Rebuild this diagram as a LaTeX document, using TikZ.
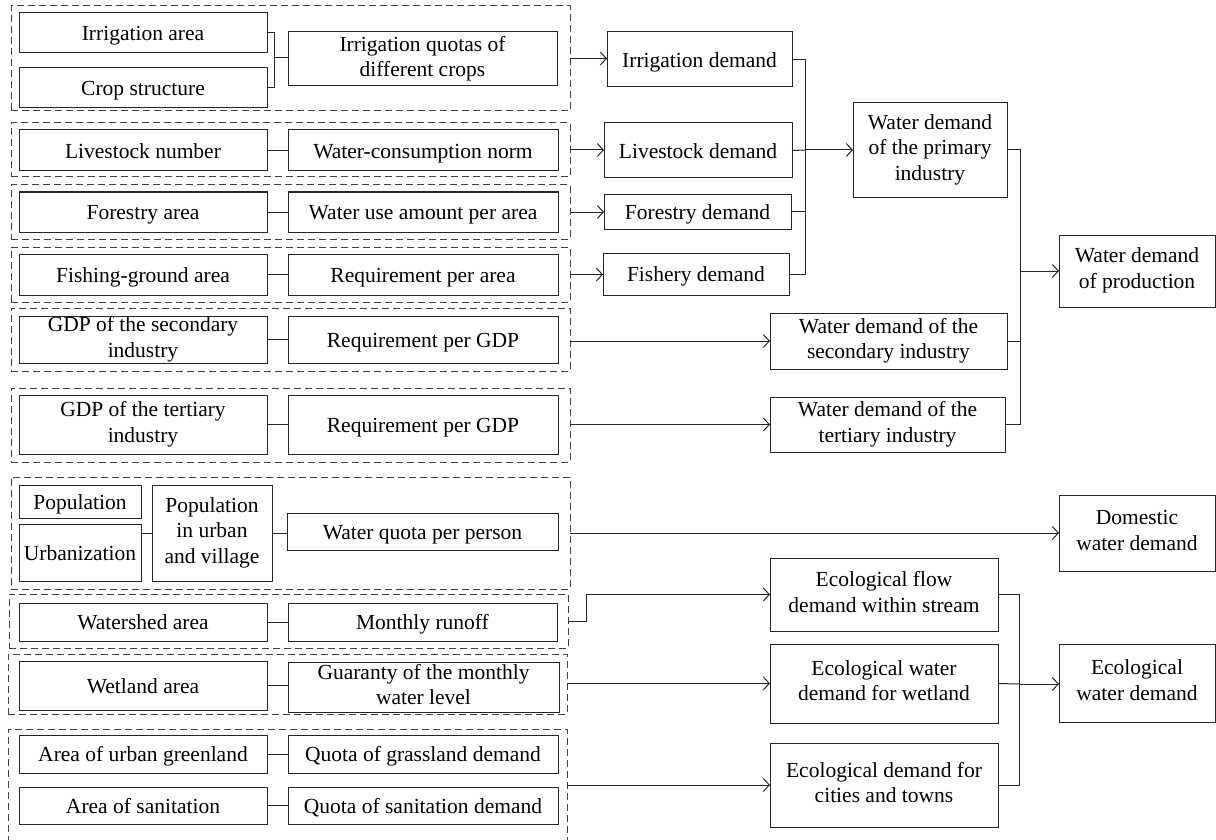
\documentclass[tikz,border=0pt]{standalone}
\usepackage{fontspec}
\setmainfont{Liberation Serif}
\usetikzlibrary{arrows.meta}
\newcommand{\bx}[7][box]{%
  \node[#1, minimum width={(#5-#3)*1pt}, minimum height={(#6-#4)*1pt}] (#2) at ({(#3+#5)/2},{(#4+#6)/2}) {#7};}
\tikzset{
  box/.style={draw=black!85, line width=1pt, inner sep=0pt, outer sep=0pt, align=center,
    font=\fontsize{21.5}{25.5}\selectfont,
    execute at begin node={\rule[-5.5pt]{0pt}{26.5pt}},
    execute at end node={\rule[-5.5pt]{0pt}{24pt}}},
  grp/.style={draw=black!75, line width=1pt, dash pattern=on 7pt off 4pt, inner sep=0pt, outer sep=0pt},
  ln/.style={draw=black!85, line width=1pt},
  arr/.style={ln, -{Straight Barb[length=6pt,width=13pt,line width=1pt]}},
}
\begin{document}
\begin{tikzpicture}[x=1pt,y=-1pt]
\useasboundingbox (0,0) rectangle (1216,840);
% dashed groups
\bx[grp]{g1}{11}{6}{570}{111}{}
\bx[grp]{g2}{11}{123}{570}{177}{}
\bx[grp]{g3}{11}{185}{570}{239}{}
\bx[grp]{g4}{11}{247}{570}{302}{}
\bx[grp]{g5}{11}{308}{570}{371}{}
\bx[grp]{g6}{11}{388}{570}{462}{}
\bx[grp]{g7}{11}{477}{570}{589}{}
\bx[grp]{g8}{9}{594}{568}{648}{}
\bx[grp]{g9}{8}{654}{567}{714}{}
\bx[grp]{g10}{8}{729}{567}{846}{}
% left column
\bx{ia}{19}{13}{267}{53}{Irrigation area}
\bx{cs}{19}{68}{267}{108}{Crop structure}
\bx{iq}{288}{32}{557}{86}{Irrigation quotas of\\different crops}
\bx{ln}{19}{130}{267}{171}{Livestock number}
\bx{wcn}{288}{130}{558}{171}{Water-consumption norm}
\bx{fa}{19}{192}{267}{232}{Forestry area}
\bx{wua}{288}{192}{558}{232}{Water use amount per area}
\bx{fga}{19}{254}{267}{295}{Fishing-ground area}
\bx{rpa}{288}{254}{558}{295}{Requirement per area}
\bx{gs}{19}{316}{267}{363}{GDP of the secondary\\industry}
\bx{rgs}{288}{316}{558}{363}{Requirement per GDP}
\bx{gt}{19}{395}{267}{454}{GDP of the tertiary\\industry}
\bx{rgt}{288}{395}{558}{454}{Requirement per GDP}
\bx{pop}{19}{485}{141}{518}{Population}
\bx{urb}{19}{524}{141}{581}{Urbanization}
\bx{pu}{152}{485}{272}{581}{Population\\in urban\\and village}
\bx{wq}{287}{513}{558}{550}{Water quota per person}
\bx{wa}{19}{603}{267}{641}{Watershed area}
\bx{mr}{288}{603}{557}{641}{Monthly runoff}
\bx{wl}{19}{661}{267}{710}{Wetland area}
\bx{gu}{288}{662}{559}{712}{Guaranty of the monthly\\water level}
\bx{ug}{19}{735}{267}{773}{Area of urban greenland}
\bx{qg}{288}{735}{558}{773}{Quota of grassland demand}
\bx{as}{19}{787}{267}{824}{Area of sanitation}
\bx{qs}{288}{787}{558}{824}{Quota of sanitation demand}
% middle column
\bx{idm}{607}{32}{792}{87}{Irrigation demand}
\bx{ldm}{604}{123}{792}{178}{Livestock demand}
\bx{fodm}{604}{194}{791}{229}{Forestry demand}
\bx{fdm}{603}{253}{789}{295}{Fishery demand}
\bx{prim}{853}{103}{1007}{197}{Water demand\\of the primary\\industry}
\bx{sec}{770}{313}{1007}{369}{Water demand of the\\secondary industry}
\bx{ter}{770}{397}{1005}{452}{Water demand of the\\tertiary industry}
\bx{ef}{770}{558}{998}{631}{Ecological flow\\demand within stream}
\bx{ew}{770}{644}{998}{723}{Ecological water\\demand for wetland}
\bx{ec}{770}{743}{998}{827}{Ecological demand for\\cities and towns}
% right column
\bx{prod}{1059}{235}{1215}{307}{Water demand\\of production}
\bx{dom}{1059}{495}{1215}{571}{Domestic\\water demand}
\bx{eco}{1059}{644}{1215}{722}{Ecological\\water demand}
% coordinates
\coordinate (b1) at (274,58);
\coordinate (c1) at (805,150);
\coordinate (c2) at (1020,271);
\coordinate (k8) at (586,621);
\coordinate (c3) at (1019,684);
% inner links
\draw[ln] (ia.east) -- (ia.east -| b1) -- (cs.east -| b1) -- (cs.east);
\draw[ln] (b1) -- (iq.west |- b1);
\foreach \a/\b in {ln/wcn,fa/wua,fga/rpa,gs/rgs,gt/rgt,pu/wq,wa/mr,wl/gu,ug/qg,as/qs}
  \draw[ln] (\a.east) -- (\b.west |- \a.east);
\draw[ln] (pu.west) -- (pu.west -| urb.east);
% group outputs
\draw[arr] (g1.east) -- (g1.east -| idm.west);
\draw[arr] (g2.east) -- (g2.east -| ldm.west);
\draw[arr] (g3.east) -- (g3.east -| fodm.west);
\draw[arr] (g4.east) -- (g4.east -| fdm.west);
\draw[arr] (g5.east |- sec.west) -- (sec.west);
\draw[arr] (g6.east |- ter.west) -- (ter.west);
\draw[arr] (g7.east) -- (g7.east -| dom.west);
\draw[arr] (g8.east |- k8) -- (k8) |- (ef.west);
\draw[arr] (g9.east |- ew.west) -- (ew.west);
\draw[arr] (g10.east |- ec.west) -- (ec.west);
% collectors
\draw[ln] (idm.east) -- (idm.east -| c1) -- (fdm.east -| c1) -- (fdm.east);
\draw[ln] (ldm.east) -- (c1);
\draw[ln] (fodm.east) -- (fodm.east -| c1);
\draw[arr] (c1) -- (prim.west |- c1);
\draw[ln] (prim.east) -| (c2) |- (ter.east);
\draw[ln] (sec.east) -- (sec.east -| c2);
\draw[arr] (c2) -- (prod.west |- c2);
\draw[ln] (ef.east) -| (c3) |- (ec.east);
\draw[ln] (ew.east) -- (c3);
\draw[arr] (c3) -- (eco.west |- c3);
\end{tikzpicture}
\end{document}
